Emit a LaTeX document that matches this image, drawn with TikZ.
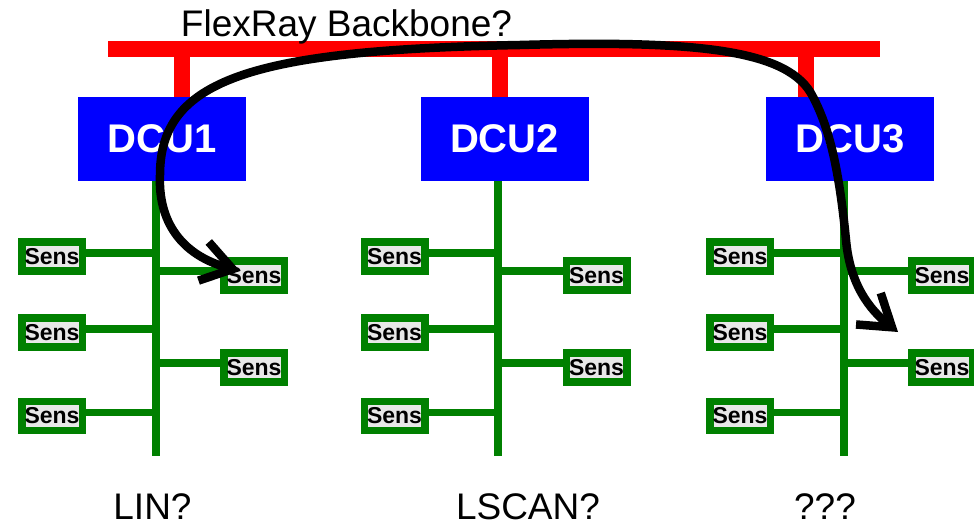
\documentclass[tikz,border=0pt]{standalone}
\usepackage{fontspec}
\setmainfont{Liberation Sans}
\usetikzlibrary{arrows.meta}
\definecolor{busred}{RGB}{255,0,0}
\definecolor{dcublue}{RGB}{0,0,255}
\definecolor{lingreen}{RGB}{0,128,0}
\definecolor{sensgray}{RGB}{232,232,232}

\begin{document}
\begin{tikzpicture}[x=1pt,y=-1pt,
  dcu/.style={fill=dcublue, minimum width=168pt, minimum height=84pt, inner sep=0pt,
    text=white, font=\fontsize{40}{40}\selectfont\bfseries},
  sens/.style={fill=sensgray, draw=lingreen, line width=7.5pt, minimum width=60.5pt,
    minimum height=29pt, inner sep=0pt, font=\fontsize{23}{23}\selectfont\bfseries},
  bus/.style={draw=busred, line width=16pt},
  trunk/.style={draw=lingreen, line width=8pt},
  branch/.style={draw=lingreen, line width=7.5pt},
  caption/.style={font=\fontsize{37}{37}\selectfont, anchor=base, inner sep=0pt},
  hoparrow/.style={line width=8.5pt, line cap=round,
    {Straight Barb[length=30pt,width=40pt]}-{Straight Barb[length=30pt,width=40pt]}}
]
\useasboundingbox (0,0) rectangle (974,524);

% FlexRay backbone bar
\coordinate (busL) at (108,49);
\coordinate (busR) at (880,49);
\draw[bus] (busL) -- (busR);

% three DCU clusters: group / trunk x / box x / bus tap x
\foreach \g/\T/\D/\tap in {1/155.5/162/182, 2/498/504.5/499.5, 3/843.5/850/805.5}{
  \node[dcu] (dcu\g) at (\D,139) {DCU\g};
  \coordinate (tap\g) at (\tap,49);
  \draw[bus] (tap\g) -- (tap\g |- dcu\g.north);
  % local sub-bus
  \coordinate (trunk\g) at (\T,456);
  \draw[trunk] (trunk\g |- dcu\g.south) -- (trunk\g);
  % sensors on the left and right of the sub-bus
  \node[sens] (sl\g a) at (\T-103.5,256.5) {Sens};
  \node[sens] (sl\g b) at (\T-103.5,332.5) {Sens};
  \node[sens] (sl\g c) at (\T-103.5,416) {Sens};
  \node[sens] (sr\g a) at (\T+98.5,275.5) {Sens};
  \node[sens] (sr\g b) at (\T+98.5,367.5) {Sens};
  \foreach \s in {sl\g a, sl\g b, sl\g c}{
    \draw[branch] ([yshift=3.5pt]\s.east) -- ([yshift=3.5pt]\s.east -| trunk\g);
  }
  \foreach \s in {sr\g a, sr\g b}{
    \draw[branch] ([yshift=4.5pt]\s.west) -- ([yshift=4.5pt]\s.west -| trunk\g);
  }
}

% titles
\node[caption] (flex) at (346.5,37) {FlexRay Backbone?};
\node[caption] (lin) at (152.5,519) {LIN?};
\node[caption] (lscan) at (528,519) {LSCAN?};
\node[caption] (unk) at (825,519) {???};

% cross-cluster hop over the backbone
\coordinate (hopA) at (240,271);
\coordinate (hopB) at (898,332);
\draw[hoparrow] (hopA) .. controls (180,255) and (158,220) .. (160,175)
  .. controls (160,80) and (250,50) .. (520,45)
  .. controls (700,40) and (790,50) .. (813,97)
  .. controls (832,133) and (840,180) .. (846,240)
  .. controls (850,285) and (870,310) .. (hopB);
\end{tikzpicture}
\end{document}
